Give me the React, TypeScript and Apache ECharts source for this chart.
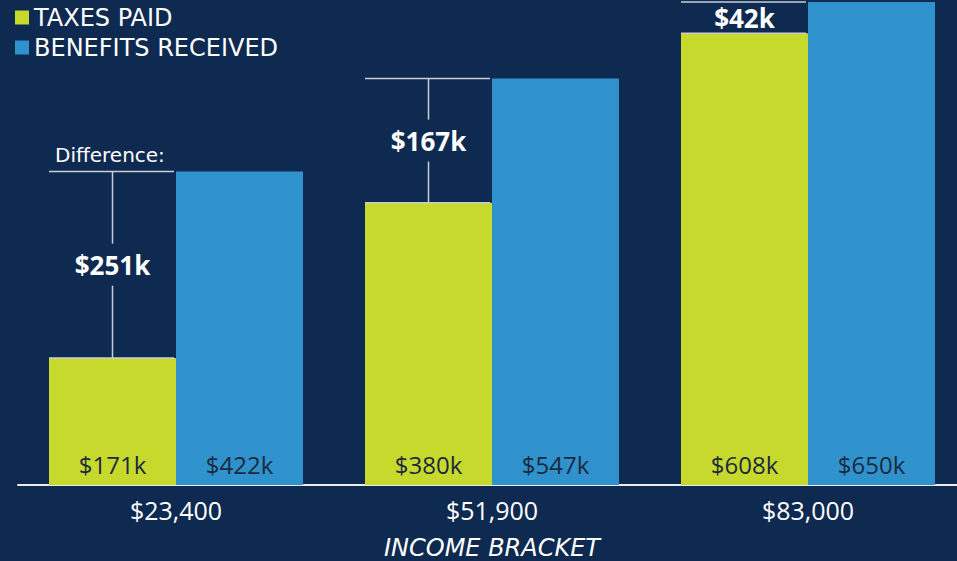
import React, { useEffect, useRef } from "react";
import * as echarts from "echarts";

const categories = ["$23,400", "$51,900", "$83,000"];
const taxesPaid = [171, 380, 608];
const benefitsReceived = [422, 547, 650];
const seriesNames = ["TAXES PAID", "BENEFITS RECEIVED"];
const axisTitle = "INCOME BRACKET";
const differenceTitle = "Difference:";

const BG = "#0f2a50";
const GREEN = "#c8d92d";
const BLUE = "#2f92cd";
const BAR_W = 127;
const WIDE = "'DejaVu Sans', sans-serif";
const NUM = "'Open Sans', sans-serif";

export default function App() {
  const ref = useRef<HTMLDivElement>(null);
  useEffect(() => {
    if (!ref.current) return;
    const chart = echarts.init(ref.current, null, { renderer: "svg" });
    const diffData = categories.map((_, i) => [
      i,
      benefitsReceived[i],
      taxesPaid[i],
      benefitsReceived[i] - taxesPaid[i],
    ]);
    const barLabel = {
      show: true,
      position: "insideBottom",
      distance: 9,
      color: "#1b2a3e",
      fontSize: 24,
      fontFamily: NUM,
      formatter: (p: any) => "$" + p.value + "k",
    };
    const option: any = {
      animation: false,
      backgroundColor: BG,
      legend: {
        orient: "vertical",
        left: 10,
        top: 0,
        icon: "rect",
        itemWidth: 14,
        itemHeight: 14,
        itemGap: 5,
        selectedMode: false,
        data: seriesNames,
        textStyle: {
          color: "#ffffff",
          fontSize: 24,
          lineHeight: 25,
          fontFamily: WIDE,
        },
      },
      grid: {
        left: 18,
        right: 0,
        top: 2,
        bottom: 76,
        containLabel: false,
        outerBoundsMode: "none",
      },
      xAxis: {
        type: "category",
        data: categories,
        axisTick: { show: false },
        axisLine: { lineStyle: { color: "#e8ecf0", width: 2 } },
        axisLabel: {
          color: "#ffffff",
          fontSize: 25,
          margin: 12,
          fontFamily: NUM,
        },
        name: axisTitle,
        nameLocation: "middle",
        nameGap: 51,
        nameTextStyle: {
          color: "#ffffff",
          fontSize: 24,
          lineHeight: 24,
          fontStyle: "italic",
          fontFamily: WIDE,
        },
        z: 1,
      },
      yAxis: {
        type: "value",
        min: 0,
        max: 650,
        show: false,
        splitLine: { show: false },
      },
      series: [
        {
          name: seriesNames[0],
          type: "bar",
          data: taxesPaid,
          barWidth: BAR_W,
          barGap: "0%",
          itemStyle: { color: GREEN },
          z: 3,
          label: barLabel,
        },
        {
          name: seriesNames[1],
          type: "bar",
          data: benefitsReceived,
          barWidth: BAR_W,
          barGap: "0%",
          itemStyle: { color: BLUE },
          z: 3,
          label: barLabel,
        },
        {
          type: "custom",
          name: "diff",
          data: diffData,
          encode: { x: 0, y: 1 },
          z: 5,
          silent: true,
          renderItem: (params: any, api: any) => {
            const idx = api.value(0);
            const cx = api.coord([idx, 0])[0];
            const yB = api.coord([idx, api.value(1)])[1];
            const yT = api.coord([idx, api.value(2)])[1];
            const diff = api.value(3);
            const x0 = cx - BAR_W;
            const x1 = cx - 2;
            const gx = cx - BAR_W / 2;
            const mid = (yB + yT) / 2;
            const gap = 21;
            const lineStyle = { stroke: "#c9ced6", lineWidth: 1.5 };
            const children: any[] = [
              { type: "line", shape: { x1: x0, y1: yB, x2: x1, y2: yB }, style: lineStyle },
              { type: "line", shape: { x1: x0, y1: yT, x2: x1, y2: yT }, style: lineStyle },
            ];
            if (mid - gap - yB > 4) {
              children.push({
                type: "line",
                shape: { x1: gx, y1: yB, x2: gx, y2: mid - gap },
                style: lineStyle,
              });
              children.push({
                type: "line",
                shape: { x1: gx, y1: mid + gap, x2: gx, y2: yT },
                style: lineStyle,
              });
            }
            children.push({
              type: "text",
              x: gx,
              y: mid,
              style: {
                text: "$" + diff + "k",
                fill: "#ffffff",
                font: "bold 26px 'Open Sans', sans-serif",
                align: "center",
                verticalAlign: "middle",
              },
            });
            if (idx === 0) {
              children.push({
                type: "text",
                x: x0 + 6,
                y: yB - 16,
                style: {
                  text: differenceTitle,
                  fill: "#ffffff",
                  font: "20px 'DejaVu Sans', sans-serif",
                  align: "left",
                  verticalAlign: "middle",
                },
              });
            }
            return { type: "group", children };
          },
        },
      ],
    };
    chart.setOption(option);
    return () => chart.dispose();
  }, []);
  return (
    <div
      style={{
        position: "absolute",
        left: 0,
        top: 0,
        width: 957,
        height: 561,
        overflow: "hidden",
      }}
    >
      <div ref={ref} style={{ width: 966, height: 561 }} />
    </div>
  );
}
